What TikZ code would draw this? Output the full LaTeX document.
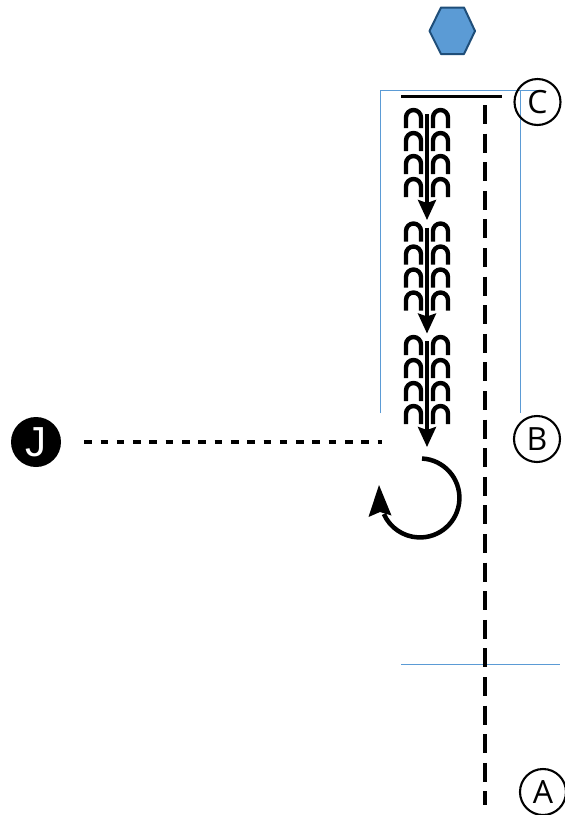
\documentclass[tikz,border=0pt]{standalone}
\usepackage{fontspec}
\setmainfont{Open Sans}
\newfontfamily\jfont{Liberation Sans}
\usetikzlibrary{arrows.meta}
\definecolor{hexfill}{HTML}{5B9BD5}
\definecolor{hexline}{HTML}{1F4E79}
\definecolor{guide}{HTML}{5B9BD5}
\tikzset{
  x=1pt,y=-1pt,
  label circle/.style={circle,draw=black,line width=2.1pt,minimum size=46pt,inner sep=0pt,font=\fontsize{32}{32}\selectfont,fill=none},
  guide line/.style={draw=guide,line width=0.95pt},
  spine/.style={line width=3.6pt,draw=black},
  arch/.style={line width=4.4pt,draw=black},
  big tip/.style={-{Stealth[length=20pt,width=18pt,inset=3pt]}},
  pics/hairpins/.style={code={
    \foreach \r in {0,23,46,69}{
      \draw[arch] (-21,{\r+20}) -- (-21,{\r+9.5}) arc[start angle=180,end angle=360,radius=7.5] -- (-6,{\r+20});
      \draw[arch] (6,{\r+20}) -- (6,{\r+9.5}) arc[start angle=180,end angle=360,radius=7.5] -- (21,{\r+20});
    }
  }}
}
\begin{document}
\begin{tikzpicture}
\useasboundingbox (0,0) rectangle (565,815);
\fill[white] (0,0) rectangle (565,815);
% guides
\coordinate (g1) at (380,413);
\coordinate (g2) at (380,90);
\coordinate (g3) at (540,90);
\coordinate (g4) at (520,90);
\coordinate (g5) at (520,413);
\coordinate (g6) at (401,664);
\coordinate (g7) at (560,664);
\draw[guide line] (g1) -- (g2) -- (g3);
\draw[guide line] (g4) -- (g5);
\draw[guide line] (g6) -- (g7);
% hexagon
\filldraw[draw=hexline,fill=hexfill,line width=2pt,line join=round] (429.5,31) -- (441,7.5) -- (464,7.5) -- (475,31) -- (464,54) -- (441,54) -- cycle;
% labels
\node[label circle] (C) at (537.5,102) {C};
\node[label circle] (B) at (537,439) {B};
\node[label circle] (A) at (543,792) {A};
\node[circle,fill=black,minimum size=50pt,inner sep=0pt,text=white,font=\jfont\fontsize{42}{42}\selectfont] (J) at (36,442) {J};
% bar and axis
\coordinate (b1) at (401,96);
\coordinate (b2) at (502,96);
\draw[line width=3pt] (b1) -- (b2);
\coordinate (a1) at (484.5,105);
\coordinate (a2) at (484.5,805);
\draw[line width=4pt,dash pattern=on 19pt off 9.6pt] (a1) -- (a2);
% dotted
\coordinate (d1) at (382,442);
\draw[line width=4pt,dash pattern=on 7.6pt off 8.7pt] (J.east) ++(23,0) -- (d1);
% hairpin stacks
\foreach \t/\n in {108/p,221.5/q,335/r}{
  \pic at (427,\t) {hairpins};
  \coordinate (\n1) at (427,{\t+6});
  \coordinate (\n2) at (427,{\t+112});
  \draw[spine,big tip] (\n1) -- (\n2);
}
% turning arrow
\coordinate (c0) at (422,458.5);
\draw[line width=4.5pt] (c0) arc[start angle=-87,end angle=156,radius=39.5];
\coordinate (t1) at (379,485);
\coordinate (t2) at (391.5,515.5);
\coordinate (t3) at (380,512);
\coordinate (t4) at (368.5,517);
\fill (t1) -- (t2) -- (t3) -- (t4) -- cycle;
\end{tikzpicture}
\end{document}
